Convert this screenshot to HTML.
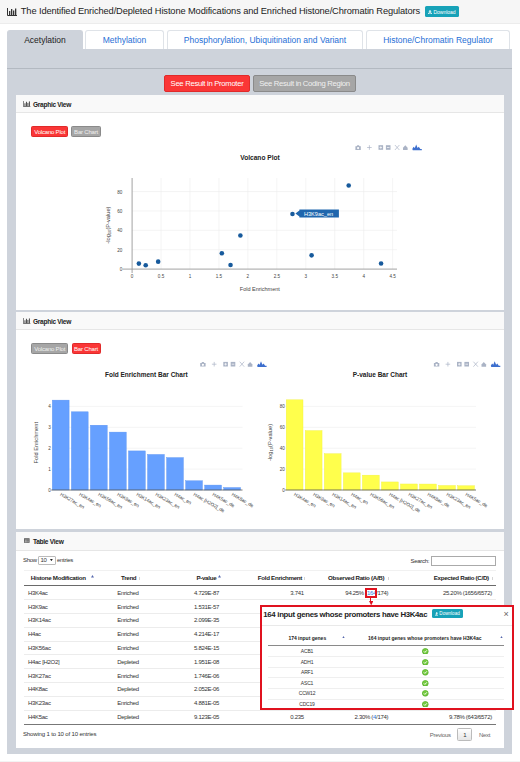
<!DOCTYPE html>
<html><head><meta charset="utf-8">
<style>
*{box-sizing:border-box;margin:0;padding:0}
html,body{width:520px;height:762px;overflow:hidden;background:#fff;font-family:"Liberation Sans",sans-serif;color:#212529}
.a{position:absolute}
#hdr{left:0;top:0;width:520px;height:23.5px;background:#f6f6f6;border-bottom:1px solid #ececec}
#title{left:20.8px;top:5.2px;font-size:9.3px;letter-spacing:-0.12px;line-height:12px;color:#222;white-space:nowrap}
.dl{background:#17a2b8;color:#fff;border-radius:1.5px;font-size:5px;line-height:10px;text-align:center;white-space:nowrap}
.tab{top:30px;height:19px;border:1px solid #dfe3e8;border-bottom:none;border-radius:3px 3px 0 0;background:#fff;color:#1f6fd6;font-size:8.5px;line-height:19px;text-align:center;white-space:nowrap}
.tab.act{background:#ced3db;color:#222;border-color:#ced3db}
#panel{left:7px;top:49px;width:505px;height:705px;background:#ced3db}
#pline{left:7px;top:68.2px;width:505px;height:1.3px;background:#b3b9c1}
.btn{font-size:7.7px;letter-spacing:-0.3px;text-align:center;white-space:nowrap;border-radius:2px}
.red{background:#fa3636;color:#fff;border:1px solid #e02a2a}
.gry{background:#a6a6a6;color:#f0f0f0;border:1px solid #8a8a8a}
.card{left:16px;width:488px;background:#fff}
.ch{left:0;top:0;width:488px;height:17.5px;background:#f9f9f9;border-bottom:1px solid #e6e6e6}
.cht{left:17px;top:0.5px;font-size:6.6px;letter-spacing:-0.3px;font-weight:bold;line-height:17px;color:#222;white-space:nowrap}
.sb{z-index:2;font-size:6px;letter-spacing:-0.2px;line-height:10px;height:11px;text-align:center;border-radius:1.5px;white-space:nowrap}

.tc{position:absolute;font-size:6px;letter-spacing:-0.3px;line-height:8px;color:#333;white-space:nowrap}
.th{position:absolute;font-size:6.2px;letter-spacing:-0.3px;line-height:8px;color:#222;font-weight:bold;white-space:nowrap}
.hl{position:absolute;height:1px;background:#ececec}
.gen{position:absolute;font-size:5px;letter-spacing:-0.2px;line-height:8px;color:#333;white-space:nowrap;width:40px;text-align:center}
.ok{position:absolute;width:6.4px;height:6.4px;border-radius:50%;background:radial-gradient(circle at 45% 40%,#7fd04a,#4ea626 70%,#3a8f1c)}

svg text{font-family:"Liberation Sans",sans-serif}
</style></head><body>
<div class="a" id="hdr"></div>
<div class="a" style="left:7px;top:8px;width:10px;height:8px">
<svg style="display:block" width="10" height="8" viewBox="0 0 10 8"><path d="M0.5 0v7.5h9.5" stroke="#333" stroke-width="1" fill="none"/><rect x="2" y="3" width="1.3" height="4" fill="#333"/><rect x="4" y="1" width="1.3" height="6" fill="#333"/><rect x="6" y="2.5" width="1.3" height="4.5" fill="#333"/><rect x="8" y="0.5" width="1.3" height="6.5" fill="#333"/></svg></div>
<div class="a" id="title">The Identified Enriched/Depleted Histone Modifications and Enriched Histone/Chromatin Regulators</div>
<div class="a dl" style="left:425px;top:6px;width:34px;height:10.5px;line-height:12px"><svg style="display:inline-block;vertical-align:-0.3px;margin-right:1px" width="4" height="4" viewBox="0 0 8 8"><path d="M3 0h2v3.2h2L4 6.4L1 3.2h2z" fill="#fff"/><path d="M0 5.5v2.5h8v-2.5h-1.2v1.3h-5.6v-1.3z" fill="#fff"/></svg>Download</div>

<div class="a" id="panel"></div>
<div class="a" style="left:0;top:760.5px;width:520px;height:1.5px;background:#f3f3f3"></div>
<div class="a tab act" style="left:7px;width:76px">Acetylation</div>
<div class="a tab" style="left:85px;width:79px">Methylation</div>
<div class="a tab" style="left:167px;width:196px">Phosphorylation, Ubiquitination and Variant</div>
<div class="a tab" style="left:366px;width:144px">Histone/Chromatin Regulator</div>
<div class="a" id="pline"></div>

<div class="a btn red" style="left:164px;top:75px;width:86px;height:17px;line-height:15px">See Result in Promoter</div>
<div class="a btn gry" style="left:253px;top:75px;width:103px;height:17px;line-height:15px">See Result in Coding Region</div>

<div class="a sb red" style="left:31.2px;top:125.8px;width:37px">Volcano Plot</div>
<div class="a sb gry" style="left:71.4px;top:125.8px;width:29.3px">Bar Chart</div>
<div class="a sb gry" style="left:31.2px;top:343px;width:37px">Volcano Plot</div>
<div class="a sb red" style="left:71.5px;top:343px;width:29px">Bar Chart</div>
<!-- card 1 -->
<div class="a card" style="top:95px;height:215px">
  <div class="a ch"></div>
  <svg class="a" style="left:7.4px;top:5.5px" width="7.4" height="6" viewBox="0 0 10 8"><path d="M0.5 0v7.5h9.5" stroke="#444" stroke-width="1" fill="none"/><rect x="2" y="3" width="1.3" height="4" fill="#444"/><rect x="4" y="1" width="1.3" height="6" fill="#444"/><rect x="6" y="2.5" width="1.3" height="4.5" fill="#444"/><rect x="8" y="0.5" width="1.3" height="6.5" fill="#444"/></svg><div class="a cht">Graphic View</div>
</div>
<!-- card 2 -->
<div class="a card" style="top:312px;height:217px">
  <div class="a ch"></div>
  <svg class="a" style="left:7.4px;top:5.5px" width="7.4" height="6" viewBox="0 0 10 8"><path d="M0.5 0v7.5h9.5" stroke="#444" stroke-width="1" fill="none"/><rect x="2" y="3" width="1.3" height="4" fill="#444"/><rect x="4" y="1" width="1.3" height="6" fill="#444"/><rect x="6" y="2.5" width="1.3" height="4.5" fill="#444"/><rect x="8" y="0.5" width="1.3" height="6.5" fill="#444"/></svg><div class="a cht">Graphic View</div>
</div>
<!-- card 3 -->
<div class="a card" style="top:532px;height:216px">
  <div class="a ch" style="height:18.5px"></div>
  <svg class="a" style="left:8.2px;top:6.2px" width="5.6" height="5" viewBox="0 0 6 5"><rect x="0" y="0" width="6" height="5" rx="0.4" fill="#555"/><path d="M0.5 1.9h5M0.5 3.4h5M2 1.6v3" stroke="#e8e8e8" stroke-width="0.5"/></svg><div class="a cht">Table View</div>
</div>
<div class="tc" style="left:23px;top:556px">Show</div>
<div class="a" style="left:38px;top:555.5px;width:17.5px;height:9px;border:0.6px solid #bbb;border-radius:1px;background:#fff"></div>
<div class="tc" style="left:40.5px;top:556px">10</div>
<svg class="a" style="left:50.2px;top:558.9px" width="2.8" height="2.2" viewBox="0 0 2.8 2.2"><path d="M0 0H2.8L1.4 2.2z" fill="#222"/></svg>
<div class="tc" style="left:57px;top:556px">entries</div>
<div class="tc" style="left:410.5px;top:556.5px">Search:</div>
<div class="a" style="left:431.3px;top:555.5px;width:65px;height:10px;border:0.6px solid #aaa;background:#fff"></div>
<div class="hl" style="left:24.3px;width:471.5px;top:569.5px;background:#f1f1f1"></div>
<div class="th" style="left:30.8px;top:574.2px">Histone Modification</div>
<div class="th" style="left:121px;top:574.2px">Trend</div>
<div class="th" style="left:196.4px;top:574.2px">P-value</div>
<div class="th" style="left:257.8px;top:574.2px">Fold Enrichment</div>
<div class="th" style="left:328px;top:574.2px">Observed Ratio (A/B)</div>
<div class="th" style="left:433.7px;top:574.2px">Expected Ratio (C/D)</div>
<svg class="a" style="left:90.5px;top:575.3px" width="3" height="2.6" viewBox="0 0 3 2.6"><path d="M1.5 0L3 2.6H0z" fill="#5567ad"/></svg>
<div class="a" style="left:139.1px;top:576.5px;width:0.8px;height:3px;background:#d6d6d6"></div>
<svg class="a" style="left:217.5px;top:575.3px" width="3" height="2.6" viewBox="0 0 3 2.6"><path d="M1.5 0L3 2.6H0z" fill="#5567ad"/></svg>
<div class="a" style="left:303.90000000000003px;top:576.5px;width:0.8px;height:3px;background:#d6d6d6"></div>
<div class="a" style="left:388.20000000000005px;top:576.5px;width:0.8px;height:3px;background:#d6d6d6"></div>
<div class="a" style="left:492.20000000000005px;top:576.5px;width:0.8px;height:3px;background:#d6d6d6"></div>
<div class="a" style="left:24.3px;top:584.6px;width:471.5px;height:1.1px;background:#6a6a6a"></div>
<div class="tc" style="left:28px;top:588.80px">H3K4ac</div>
<div class="tc" style="left:98px;width:60px;text-align:center;top:588.80px">Enriched</div>
<div class="tc" style="left:176.5px;width:60px;text-align:center;top:588.80px">4.729E-87</div>
<div class="tc" style="left:250px;width:53.8px;text-align:right;top:588.80px">3.741</div>
<div class="tc" style="left:400px;width:91.9px;text-align:right;top:588.80px">25.20% (1656/6572)</div>
<div class="tc" style="left:300px;width:88.3px;text-align:right;top:588.80px">94.25% (<span style="color:#2a7ae2">164</span>/174)</div>
<div class="hl" style="left:24.3px;width:471.5px;top:599.20px"></div>
<div class="tc" style="left:28px;top:602.61px">H3K9ac</div>
<div class="tc" style="left:98px;width:60px;text-align:center;top:602.61px">Enriched</div>
<div class="tc" style="left:176.5px;width:60px;text-align:center;top:602.61px">1.531E-57</div>
<div class="hl" style="left:24.3px;width:471.5px;top:613.01px"></div>
<div class="tc" style="left:28px;top:616.42px">H3K14ac</div>
<div class="tc" style="left:98px;width:60px;text-align:center;top:616.42px">Enriched</div>
<div class="tc" style="left:176.5px;width:60px;text-align:center;top:616.42px">2.099E-35</div>
<div class="hl" style="left:24.3px;width:471.5px;top:626.82px"></div>
<div class="tc" style="left:28px;top:630.23px">H4ac</div>
<div class="tc" style="left:98px;width:60px;text-align:center;top:630.23px">Enriched</div>
<div class="tc" style="left:176.5px;width:60px;text-align:center;top:630.23px">4.214E-17</div>
<div class="hl" style="left:24.3px;width:471.5px;top:640.63px"></div>
<div class="tc" style="left:28px;top:644.04px">H3K56ac</div>
<div class="tc" style="left:98px;width:60px;text-align:center;top:644.04px">Enriched</div>
<div class="tc" style="left:176.5px;width:60px;text-align:center;top:644.04px">5.824E-15</div>
<div class="hl" style="left:24.3px;width:471.5px;top:654.44px"></div>
<div class="tc" style="left:28px;top:657.85px">H4ac [H2O2]</div>
<div class="tc" style="left:98px;width:60px;text-align:center;top:657.85px">Depleted</div>
<div class="tc" style="left:176.5px;width:60px;text-align:center;top:657.85px">1.951E-08</div>
<div class="hl" style="left:24.3px;width:471.5px;top:668.25px"></div>
<div class="tc" style="left:28px;top:671.66px">H3K27ac</div>
<div class="tc" style="left:98px;width:60px;text-align:center;top:671.66px">Enriched</div>
<div class="tc" style="left:176.5px;width:60px;text-align:center;top:671.66px">1.746E-06</div>
<div class="hl" style="left:24.3px;width:471.5px;top:682.06px"></div>
<div class="tc" style="left:28px;top:685.47px">H4K8ac</div>
<div class="tc" style="left:98px;width:60px;text-align:center;top:685.47px">Depleted</div>
<div class="tc" style="left:176.5px;width:60px;text-align:center;top:685.47px">2.052E-06</div>
<div class="hl" style="left:24.3px;width:471.5px;top:695.87px"></div>
<div class="tc" style="left:28px;top:699.28px">H3K23ac</div>
<div class="tc" style="left:98px;width:60px;text-align:center;top:699.28px">Enriched</div>
<div class="tc" style="left:176.5px;width:60px;text-align:center;top:699.28px">4.881E-05</div>
<div class="hl" style="left:24.3px;width:471.5px;top:709.68px"></div>
<div class="tc" style="left:28px;top:713.09px">H4K5ac</div>
<div class="tc" style="left:98px;width:60px;text-align:center;top:713.09px">Depleted</div>
<div class="tc" style="left:176.5px;width:60px;text-align:center;top:713.09px">9.123E-05</div>
<div class="tc" style="left:250px;width:53.8px;text-align:right;top:713.09px">0.235</div>
<div class="tc" style="left:400px;width:91.9px;text-align:right;top:713.09px">9.78% (643/6572)</div>
<div class="tc" style="left:300px;width:88.3px;text-align:right;top:713.09px">2.30% (<span style="color:#2a7ae2">4</span>/174)</div>
<div class="a" style="left:24.3px;top:724px;width:471.5px;height:1.1px;background:#777"></div>
<div class="tc" style="left:23px;top:730px;letter-spacing:-0.15px">Showing 1 to 10 of 10 entries</div>
<div class="tc" style="left:429.8px;top:730.5px;color:#666">Previous</div>
<div class="a" style="left:457.3px;top:727.7px;width:15.2px;height:13.3px;border:0.6px solid #bbb;border-radius:1.5px;background:linear-gradient(#fff,#e6e6e6)"></div>
<div class="tc" style="left:457.3px;width:15.2px;text-align:center;top:730.5px">1</div>
<div class="tc" style="left:479px;top:730.5px;color:#666">Next</div>
<div class="a" style="left:260px;top:604.8px;width:254.2px;height:105.2px;background:#fff"></div>
<div class="a" style="left:262px;top:624.6px;width:250px;height:0.8px;background:#e9e9e9"></div>
<div class="a" style="left:263.3px;top:610px;font-size:7.8px;font-weight:bold;letter-spacing:-0.3px;line-height:10px;color:#222;white-space:nowrap">164 input genes whose promoters have H3K4ac</div>
<div class="a dl" style="left:431.7px;top:609.3px;width:31.2px;height:9.1px;line-height:10.2px;font-size:4.6px"><svg style="display:inline-block;vertical-align:-0.3px;margin-right:1px" width="3.6" height="3.6" viewBox="0 0 8 8"><path d="M3 0h2v3.2h2L4 6.4L1 3.2h2z" fill="#fff"/><path d="M0 5.5v2.5h8v-2.5h-1.2v1.3h-5.6v-1.3z" fill="#fff"/></svg>Download</div>
<div class="a" style="left:503.4px;top:608.6px;font-size:9px;line-height:10px;color:#666">&#xD7;</div>
<div class="a" style="left:288.4px;top:633.8px;font-size:5px;font-weight:bold;line-height:8px;color:#222;white-space:nowrap">174 input genes</div>
<div class="a" style="left:368.1px;top:633.8px;font-size:5px;font-weight:bold;line-height:8px;color:#222;white-space:nowrap">164 input genes whose promoters have H3K4ac</div>
<svg class="a" style="left:341.6px;top:635.8px" width="3" height="2.6" viewBox="0 0 3 2.6"><path d="M1.5 0L3 2.6H0z" fill="#5567ad"/></svg>
<svg class="a" style="left:499.8px;top:635.8px" width="3" height="2.6" viewBox="0 0 3 2.6"><path d="M1.5 0L3 2.6H0z" fill="#5567ad"/></svg>
<div class="a" style="left:268.2px;top:644.6px;width:235.7px;height:1.1px;background:#8a8a8a"></div>
<div class="gen" style="left:287px;top:647.00px">ACB1</div>
<svg class="a" style="left:422.2px;top:647.90px" width="6.6" height="6.6" viewBox="0 0 10 10"><circle cx="5" cy="5" r="4.8" fill="#56ad2c"/><circle cx="5" cy="4.6" r="4" fill="#72c93e"/><path d="M2.8 5.1l1.6 1.6l3-3.2" stroke="#fff" stroke-width="1.4" fill="none"/></svg>
<div class="hl" style="left:268.2px;width:235.7px;top:656.10px;background:#efefef"></div>
<div class="gen" style="left:287px;top:657.60px">ADH1</div>
<svg class="a" style="left:422.2px;top:658.50px" width="6.6" height="6.6" viewBox="0 0 10 10"><circle cx="5" cy="5" r="4.8" fill="#56ad2c"/><circle cx="5" cy="4.6" r="4" fill="#72c93e"/><path d="M2.8 5.1l1.6 1.6l3-3.2" stroke="#fff" stroke-width="1.4" fill="none"/></svg>
<div class="hl" style="left:268.2px;width:235.7px;top:666.70px;background:#efefef"></div>
<div class="gen" style="left:287px;top:668.20px">ARF1</div>
<svg class="a" style="left:422.2px;top:669.10px" width="6.6" height="6.6" viewBox="0 0 10 10"><circle cx="5" cy="5" r="4.8" fill="#56ad2c"/><circle cx="5" cy="4.6" r="4" fill="#72c93e"/><path d="M2.8 5.1l1.6 1.6l3-3.2" stroke="#fff" stroke-width="1.4" fill="none"/></svg>
<div class="hl" style="left:268.2px;width:235.7px;top:677.30px;background:#efefef"></div>
<div class="gen" style="left:287px;top:678.80px">ASC1</div>
<svg class="a" style="left:422.2px;top:679.70px" width="6.6" height="6.6" viewBox="0 0 10 10"><circle cx="5" cy="5" r="4.8" fill="#56ad2c"/><circle cx="5" cy="4.6" r="4" fill="#72c93e"/><path d="M2.8 5.1l1.6 1.6l3-3.2" stroke="#fff" stroke-width="1.4" fill="none"/></svg>
<div class="hl" style="left:268.2px;width:235.7px;top:687.90px;background:#efefef"></div>
<div class="gen" style="left:287px;top:689.40px">CCW12</div>
<svg class="a" style="left:422.2px;top:690.30px" width="6.6" height="6.6" viewBox="0 0 10 10"><circle cx="5" cy="5" r="4.8" fill="#56ad2c"/><circle cx="5" cy="4.6" r="4" fill="#72c93e"/><path d="M2.8 5.1l1.6 1.6l3-3.2" stroke="#fff" stroke-width="1.4" fill="none"/></svg>
<div class="hl" style="left:268.2px;width:235.7px;top:698.50px;background:#efefef"></div>
<div class="gen" style="left:287px;top:700.00px">CDC19</div>
<svg class="a" style="left:422.2px;top:700.90px" width="6.6" height="6.6" viewBox="0 0 10 10"><circle cx="5" cy="5" r="4.8" fill="#56ad2c"/><circle cx="5" cy="4.6" r="4" fill="#72c93e"/><path d="M2.8 5.1l1.6 1.6l3-3.2" stroke="#fff" stroke-width="1.4" fill="none"/></svg>
<div class="a" style="left:260px;top:604.8px;width:254.2px;height:105.2px;border:2px solid #e0121f"></div>
<div class="a" style="left:365.2px;top:588.3px;width:11.5px;height:9.3px;border:2px solid #e0121f"></div>
<div class="a" style="left:370.2px;top:597px;width:1.3px;height:5px;background:#e0121f"></div>
<svg class="a" style="left:368.6px;top:600.6px" width="4.4" height="4.4" viewBox="0 0 4.4 4.4"><path d="M0 0H4.4L2.2 4.4z" fill="#e0121f"/></svg>

<svg class="a" style="left:0;top:0" width="520" height="762" viewBox="0 0 520 762">
<line x1="161.05" y1="178" x2="161.05" y2="269.1" stroke="#ececec" stroke-width="0.6"/>
<line x1="190.00" y1="178" x2="190.00" y2="269.1" stroke="#ececec" stroke-width="0.6"/>
<line x1="218.95" y1="178" x2="218.95" y2="269.1" stroke="#ececec" stroke-width="0.6"/>
<line x1="247.90" y1="178" x2="247.90" y2="269.1" stroke="#ececec" stroke-width="0.6"/>
<line x1="276.85" y1="178" x2="276.85" y2="269.1" stroke="#ececec" stroke-width="0.6"/>
<line x1="305.80" y1="178" x2="305.80" y2="269.1" stroke="#ececec" stroke-width="0.6"/>
<line x1="334.75" y1="178" x2="334.75" y2="269.1" stroke="#ececec" stroke-width="0.6"/>
<line x1="363.70" y1="178" x2="363.70" y2="269.1" stroke="#ececec" stroke-width="0.6"/>
<line x1="392.65" y1="178" x2="392.65" y2="269.1" stroke="#ececec" stroke-width="0.6"/>
<line x1="132.1" y1="249.72" x2="397" y2="249.72" stroke="#ececec" stroke-width="0.6"/>
<line x1="132.1" y1="230.34" x2="397" y2="230.34" stroke="#ececec" stroke-width="0.6"/>
<line x1="132.1" y1="210.96" x2="397" y2="210.96" stroke="#ececec" stroke-width="0.6"/>
<line x1="132.1" y1="191.58" x2="397" y2="191.58" stroke="#ececec" stroke-width="0.6"/>
<line x1="132.1" y1="178" x2="132.1" y2="273" stroke="#999" stroke-width="0.9"/>
<line x1="122.5" y1="269.1" x2="397" y2="269.1" stroke="#999" stroke-width="0.9"/>
<text x="122.30" y="271.20" font-size="4.6" text-anchor="end" fill="#444" font-weight="normal" >0</text>
<text x="122.30" y="251.82" font-size="4.6" text-anchor="end" fill="#444" font-weight="normal" >20</text>
<text x="122.30" y="232.44" font-size="4.6" text-anchor="end" fill="#444" font-weight="normal" >40</text>
<text x="122.30" y="213.06" font-size="4.6" text-anchor="end" fill="#444" font-weight="normal" >60</text>
<text x="122.30" y="193.68" font-size="4.6" text-anchor="end" fill="#444" font-weight="normal" >80</text>
<text x="132.10" y="277.80" font-size="4.6" text-anchor="middle" fill="#444" font-weight="normal" >0</text>
<text x="161.05" y="277.80" font-size="4.6" text-anchor="middle" fill="#444" font-weight="normal" >0.5</text>
<text x="190.00" y="277.80" font-size="4.6" text-anchor="middle" fill="#444" font-weight="normal" >1</text>
<text x="218.95" y="277.80" font-size="4.6" text-anchor="middle" fill="#444" font-weight="normal" >1.5</text>
<text x="247.90" y="277.80" font-size="4.6" text-anchor="middle" fill="#444" font-weight="normal" >2</text>
<text x="276.85" y="277.80" font-size="4.6" text-anchor="middle" fill="#444" font-weight="normal" >2.5</text>
<text x="305.80" y="277.80" font-size="4.6" text-anchor="middle" fill="#444" font-weight="normal" >3</text>
<text x="334.75" y="277.80" font-size="4.6" text-anchor="middle" fill="#444" font-weight="normal" >3.5</text>
<text x="363.70" y="277.80" font-size="4.6" text-anchor="middle" fill="#444" font-weight="normal" >4</text>
<text x="392.65" y="277.80" font-size="4.6" text-anchor="middle" fill="#444" font-weight="normal" >4.5</text>
<text x="259.80" y="291.00" font-size="5.5" text-anchor="middle" fill="#444" font-weight="normal" >Fold Enrichment</text>
<text transform="translate(109.6,225.1) rotate(-90)" font-size="5.7" text-anchor="middle" fill="#444">-log<tspan font-size="4.1" dy="1.3">10</tspan><tspan dy="-1.3">(P-value)</tspan></text>
<circle cx="138.87" cy="263.59" r="2.3" fill="#175a9c"/>
<circle cx="145.71" cy="265.19" r="2.3" fill="#175a9c"/>
<circle cx="158.16" cy="261.64" r="2.3" fill="#175a9c"/>
<circle cx="221.84" cy="253.21" r="2.3" fill="#175a9c"/>
<circle cx="230.53" cy="264.93" r="2.3" fill="#175a9c"/>
<circle cx="240.37" cy="235.48" r="2.3" fill="#175a9c"/>
<circle cx="292.48" cy="214.06" r="2.3" fill="#175a9c"/>
<circle cx="311.59" cy="255.34" r="2.3" fill="#175a9c"/>
<circle cx="348.70" cy="185.48" r="2.3" fill="#175a9c"/>
<circle cx="381.07" cy="263.52" r="2.3" fill="#175a9c"/>
<path d="M295.4 213.6 L299.4 210.6 L299.4 209.6 L338.9 209.6 L338.9 217.6 L299.4 217.6 L299.4 216.6 Z" fill="#1f66ad"/>
<text x="318.60" y="215.70" font-size="5.6" text-anchor="middle" fill="#fff" font-weight="normal" >H3K9ac_en</text>
<text x="260.00" y="160.20" font-size="6.6" text-anchor="middle" fill="#222" font-weight="bold" >Volcano Plot</text>
<line x1="51.3" y1="469.10" x2="242.5" y2="469.10" stroke="#ececec" stroke-width="0.6"/>
<line x1="51.3" y1="448.20" x2="242.5" y2="448.20" stroke="#ececec" stroke-width="0.6"/>
<line x1="51.3" y1="427.30" x2="242.5" y2="427.30" stroke="#ececec" stroke-width="0.6"/>
<line x1="51.3" y1="406.40" x2="242.5" y2="406.40" stroke="#ececec" stroke-width="0.6"/>
<text x="50.70" y="492.00" font-size="4.6" text-anchor="end" fill="#444" font-weight="normal" >0</text>
<text x="50.70" y="471.10" font-size="4.6" text-anchor="end" fill="#444" font-weight="normal" >1</text>
<text x="50.70" y="450.20" font-size="4.6" text-anchor="end" fill="#444" font-weight="normal" >2</text>
<text x="50.70" y="429.30" font-size="4.6" text-anchor="end" fill="#444" font-weight="normal" >3</text>
<text x="50.70" y="408.40" font-size="4.6" text-anchor="end" fill="#444" font-weight="normal" >4</text>
<rect x="52.30" y="400.13" width="16.8" height="89.87" fill="#66a0ff" stroke="#5590f0" stroke-width="0.4"/>
<text transform="translate(59.70,495.20) rotate(30)" font-size="4.7" fill="#333">H3K27ac_en</text>
<rect x="71.35" y="411.81" width="16.8" height="78.19" fill="#66a0ff" stroke="#5590f0" stroke-width="0.4"/>
<text transform="translate(78.75,495.20) rotate(30)" font-size="4.7" fill="#333">H3K4ac_en</text>
<rect x="90.40" y="425.21" width="16.8" height="64.79" fill="#66a0ff" stroke="#5590f0" stroke-width="0.4"/>
<text transform="translate(97.80,495.20) rotate(30)" font-size="4.7" fill="#333">H3K56ac_en</text>
<rect x="109.45" y="432.11" width="16.8" height="57.89" fill="#66a0ff" stroke="#5590f0" stroke-width="0.4"/>
<text transform="translate(116.85,495.20) rotate(30)" font-size="4.7" fill="#333">H3K9ac_en</text>
<rect x="128.50" y="450.92" width="16.8" height="39.08" fill="#66a0ff" stroke="#5590f0" stroke-width="0.4"/>
<text transform="translate(135.90,495.20) rotate(30)" font-size="4.7" fill="#333">H3K14ac_en</text>
<rect x="147.55" y="454.47" width="16.8" height="35.53" fill="#66a0ff" stroke="#5590f0" stroke-width="0.4"/>
<text transform="translate(154.95,495.20) rotate(30)" font-size="4.7" fill="#333">H3K23ac_en</text>
<rect x="166.60" y="457.61" width="16.8" height="32.39" fill="#66a0ff" stroke="#5590f0" stroke-width="0.4"/>
<text transform="translate(174.00,495.20) rotate(30)" font-size="4.7" fill="#333">H4ac_en</text>
<rect x="185.65" y="480.80" width="16.8" height="9.20" fill="#66a0ff" stroke="#5590f0" stroke-width="0.4"/>
<text transform="translate(193.05,495.20) rotate(30)" font-size="4.7" fill="#333">H4ac [H2O2]_de</text>
<rect x="204.70" y="485.09" width="16.8" height="4.91" fill="#66a0ff" stroke="#5590f0" stroke-width="0.4"/>
<text transform="translate(212.10,495.20) rotate(30)" font-size="4.7" fill="#333">H4K5ac_de</text>
<rect x="223.75" y="487.55" width="16.8" height="2.45" fill="#66a0ff" stroke="#5590f0" stroke-width="0.4"/>
<text transform="translate(231.15,495.20) rotate(30)" font-size="4.7" fill="#333">H4K8ac_de</text>
<line x1="51.3" y1="490" x2="242.5" y2="490" stroke="#555" stroke-width="0.8"/>
<text transform="translate(38.2,442.7) rotate(-90)" font-size="5.7" text-anchor="middle" fill="#444">Fold Enrichment</text>
<text x="146.30" y="377.30" font-size="6.5" text-anchor="middle" fill="#222" font-weight="bold" >Fold Enrichment Bar Chart</text>
<line x1="285.2" y1="469.10" x2="476" y2="469.10" stroke="#ececec" stroke-width="0.6"/>
<line x1="285.2" y1="448.20" x2="476" y2="448.20" stroke="#ececec" stroke-width="0.6"/>
<line x1="285.2" y1="427.30" x2="476" y2="427.30" stroke="#ececec" stroke-width="0.6"/>
<line x1="285.2" y1="406.40" x2="476" y2="406.40" stroke="#ececec" stroke-width="0.6"/>
<text x="284.80" y="492.00" font-size="4.6" text-anchor="end" fill="#444" font-weight="normal" >0</text>
<text x="284.80" y="471.10" font-size="4.6" text-anchor="end" fill="#444" font-weight="normal" >20</text>
<text x="284.80" y="450.20" font-size="4.6" text-anchor="end" fill="#444" font-weight="normal" >40</text>
<text x="284.80" y="429.30" font-size="4.6" text-anchor="end" fill="#444" font-weight="normal" >60</text>
<text x="284.80" y="408.40" font-size="4.6" text-anchor="end" fill="#444" font-weight="normal" >80</text>
<rect x="286.20" y="399.82" width="16.8" height="90.18" fill="#ffff4c" stroke="#f0f03c" stroke-width="0.4"/>
<text transform="translate(293.60,495.20) rotate(30)" font-size="4.7" fill="#333">H3K4ac_en</text>
<rect x="305.25" y="430.64" width="16.8" height="59.36" fill="#ffff4c" stroke="#f0f03c" stroke-width="0.4"/>
<text transform="translate(312.65,495.20) rotate(30)" font-size="4.7" fill="#333">H3K9ac_en</text>
<rect x="324.30" y="453.74" width="16.8" height="36.26" fill="#ffff4c" stroke="#f0f03c" stroke-width="0.4"/>
<text transform="translate(331.70,495.20) rotate(30)" font-size="4.7" fill="#333">H3K14ac_en</text>
<rect x="343.35" y="472.86" width="16.8" height="17.14" fill="#ffff4c" stroke="#f0f03c" stroke-width="0.4"/>
<text transform="translate(350.75,495.20) rotate(30)" font-size="4.7" fill="#333">H4ac_en</text>
<rect x="362.40" y="475.16" width="16.8" height="14.84" fill="#ffff4c" stroke="#f0f03c" stroke-width="0.4"/>
<text transform="translate(369.80,495.20) rotate(30)" font-size="4.7" fill="#333">H3K56ac_en</text>
<rect x="381.45" y="481.95" width="16.8" height="8.05" fill="#ffff4c" stroke="#f0f03c" stroke-width="0.4"/>
<text transform="translate(388.85,495.20) rotate(30)" font-size="4.7" fill="#333">H4ac [H2O2]_de</text>
<rect x="400.50" y="483.98" width="16.8" height="6.02" fill="#ffff4c" stroke="#f0f03c" stroke-width="0.4"/>
<text transform="translate(407.90,495.20) rotate(30)" font-size="4.7" fill="#333">H3K27ac_en</text>
<rect x="419.55" y="484.05" width="16.8" height="5.95" fill="#ffff4c" stroke="#f0f03c" stroke-width="0.4"/>
<text transform="translate(426.95,495.20) rotate(30)" font-size="4.7" fill="#333">H4K8ac_de</text>
<rect x="438.60" y="485.51" width="16.8" height="4.49" fill="#ffff4c" stroke="#f0f03c" stroke-width="0.4"/>
<text transform="translate(446.00,495.20) rotate(30)" font-size="4.7" fill="#333">H3K23ac_en</text>
<rect x="457.65" y="485.78" width="16.8" height="4.22" fill="#ffff4c" stroke="#f0f03c" stroke-width="0.4"/>
<text transform="translate(465.05,495.20) rotate(30)" font-size="4.7" fill="#333">H4K5ac_de</text>
<line x1="285.2" y1="490" x2="476" y2="490" stroke="#555" stroke-width="0.8"/>
<text transform="translate(272,442.5) rotate(-90)" font-size="5.7" text-anchor="middle" fill="#444">-log<tspan font-size="4.1" dy="1.3">10</tspan><tspan dy="-1.3">(P-value)</tspan></text>
<text x="380.00" y="377.30" font-size="6.5" text-anchor="middle" fill="#222" font-weight="bold" >P-value Bar Chart</text>
<path d="M355.40000000000003 146.3h1.2l0.7-1.1h1.6l0.7 1.1h1.2v3.6h-5.4z" fill="#aab3c5"/><circle cx="358.1" cy="148.1" r="1.1" fill="#fff"/><path d="M367.1 147.5h4.6M369.40000000000003 145.2v4.6" stroke="#aab3c5" stroke-width="0.7"/><rect x="378.5" y="145.2" width="4.6" height="4.6" fill="#aab3c5"/><path d="M379.5 147.5h2.6M380.8 146.2v2.6" stroke="#fff" stroke-width="0.7"/><rect x="385.90000000000003" y="145.2" width="4.6" height="4.6" fill="#aab3c5"/><path d="M386.90000000000003 147.5h2.6" stroke="#fff" stroke-width="0.7"/><path d="M394.90000000000003 145.0l4.5 5M399.40000000000003 145.0l-4.5 5" stroke="#aab3c5" stroke-width="0.7"/><path d="M403.0 147.8l2.3-2.6l2.3 2.6v2.2h-4.6z" fill="#aab3c5"/><path d="M412.8 150.2h9v-1.1h-1.5l-1.5-2.4l-1.2 1.3l-1.4-3.5l-1.4 3.5l-1.2-1.3l-1.3 2.4z" fill="#3d6fce"/>
<path d="M200.2 363.0h1.2l0.7-1.1h1.6l0.7 1.1h1.2v3.6h-5.4z" fill="#aab3c5"/><circle cx="202.9" cy="364.8" r="1.1" fill="#fff"/><path d="M211.89999999999998 364.2h4.6M214.2 361.9v4.6" stroke="#aab3c5" stroke-width="0.7"/><rect x="223.29999999999998" y="361.9" width="4.6" height="4.6" fill="#aab3c5"/><path d="M224.29999999999998 364.2h2.6M225.6 362.9v2.6" stroke="#fff" stroke-width="0.7"/><rect x="230.7" y="361.9" width="4.6" height="4.6" fill="#aab3c5"/><path d="M231.7 364.2h2.6" stroke="#fff" stroke-width="0.7"/><path d="M239.7 361.7l4.5 5M244.2 361.7l-4.5 5" stroke="#aab3c5" stroke-width="0.7"/><path d="M247.8 364.5l2.3-2.6l2.3 2.6v2.2h-4.6z" fill="#aab3c5"/><path d="M257.6 366.9h9v-1.1h-1.5l-1.5-2.4l-1.2 1.3l-1.4-3.5l-1.4 3.5l-1.2-1.3l-1.3 2.4z" fill="#3d6fce"/>
<path d="M433.90000000000003 363.0h1.2l0.7-1.1h1.6l0.7 1.1h1.2v3.6h-5.4z" fill="#aab3c5"/><circle cx="436.6" cy="364.8" r="1.1" fill="#fff"/><path d="M445.6 364.2h4.6M447.90000000000003 361.9v4.6" stroke="#aab3c5" stroke-width="0.7"/><rect x="457.0" y="361.9" width="4.6" height="4.6" fill="#aab3c5"/><path d="M458.0 364.2h2.6M459.3 362.9v2.6" stroke="#fff" stroke-width="0.7"/><rect x="464.40000000000003" y="361.9" width="4.6" height="4.6" fill="#aab3c5"/><path d="M465.40000000000003 364.2h2.6" stroke="#fff" stroke-width="0.7"/><path d="M473.40000000000003 361.7l4.5 5M477.90000000000003 361.7l-4.5 5" stroke="#aab3c5" stroke-width="0.7"/><path d="M481.5 364.5l2.3-2.6l2.3 2.6v2.2h-4.6z" fill="#aab3c5"/><path d="M491.3 366.9h9v-1.1h-1.5l-1.5-2.4l-1.2 1.3l-1.4-3.5l-1.4 3.5l-1.2-1.3l-1.3 2.4z" fill="#3d6fce"/>
</svg>
</body></html>
